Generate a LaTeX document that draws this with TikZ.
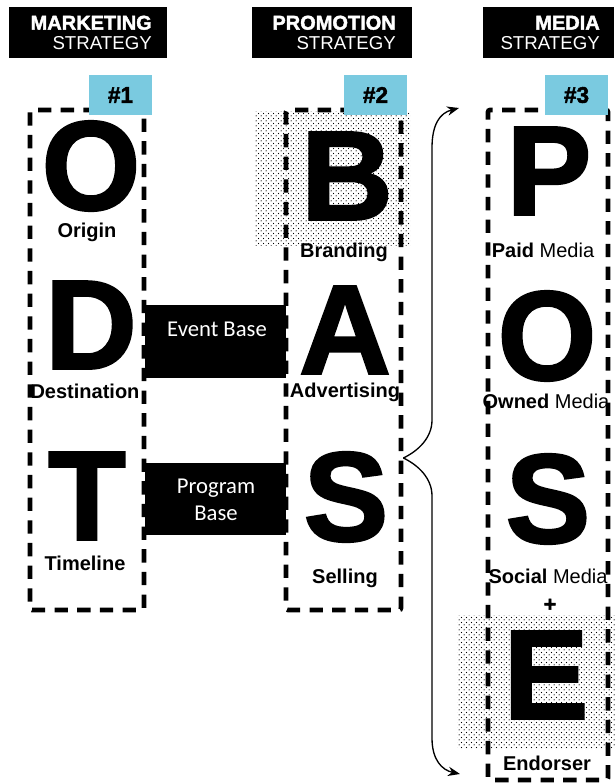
\documentclass[tikz,border=0pt]{standalone}
\usepackage{fontspec}
\setmainfont{Liberation Sans}
\newfontfamily\heavyfont{Liberation Sans Bold}[FakeBold=2]
\newfontfamily\calfont{Carlito}
\usetikzlibrary{patterns,arrows.meta}
\definecolor{badgeblue}{RGB}{122,202,224}
\pgfdeclarepatternformonly{stipdots}{\pgfpointorigin}{\pgfpoint{4pt}{3.6pt}}{\pgfpoint{4pt}{3.6pt}}{%
  \pgfpathcircle{\pgfpoint{1pt}{0.9pt}}{0.5pt}%
  \pgfpathcircle{\pgfpoint{3pt}{2.7pt}}{0.5pt}%
  \pgfusepath{fill}}

\begin{document}
\begin{tikzpicture}[x=0.75pt, y=-0.75pt,
  headbox/.style={fill=black, text=white, inner ysep=0pt, minimum height=38.25pt, align=right, anchor=north east, font=\fontsize{14}{15}\selectfont},
  badge/.style={fill=badgeblue, minimum width=47.25pt, minimum height=30pt, inner sep=0pt, font=\heavyfont\fontsize{17}{17}\selectfont},
  colbox/.style={draw, line width=3.5pt, dash pattern=on 10pt off 7pt, rounded corners=1.5pt, inner sep=0pt},
  stipple/.style={pattern=stipdots, pattern color=black, inner sep=0pt},
  linkbox/.style={fill=black, inner sep=0pt, minimum width=105.75pt},
  linktext/.style={text=white, inner sep=0pt, align=center, font=\calfont\fontsize{17}{20}\selectfont},
  bigletter/.style={inner sep=0pt, font=\heavyfont\fontsize{95}{95}\selectfont},
  lbl/.style={anchor=base, inner sep=0pt, font=\fontsize{15}{15}\selectfont},
  brace/.style={line width=1pt, -{Stealth[length=9pt, width=7pt]}},
  ]
 \useasboundingbox (0,0) rectangle (614,784);

 % dotted backgrounds
 \node[stipple, minimum width=116.25pt, minimum height=99.75pt] (bdots) at (332.5,178.5) {};
 \node[stipple, minimum width=122.25pt, minimum height=99.75pt] (edots) at (538.5,681.5) {};

 % headers
 \node[headbox, inner xsep=11.25pt, text width=96pt] (mkthead) at (167,7) {{\heavyfont\fontsize{15}{15}\selectfont MARKETING}\\STRATEGY};
 \node[headbox, inner xsep=12pt, text width=96pt] (prohead) at (412,7) {{\heavyfont\fontsize{15}{15}\selectfont PROMOTION}\\STRATEGY};
 \node[headbox, inner xsep=10.5pt, text width=77.25pt] (medhead) at (614,7) {{\heavyfont\fontsize{15}{15}\selectfont MEDIA}\\STRATEGY};

 % columns
 \node[colbox, minimum width=85.5pt, minimum height=375pt] (col1) at (87,360) {};
 \node[colbox, minimum width=86.25pt, minimum height=375pt] (col2) at (343.5,360) {};
 \node[colbox, minimum width=90pt, minimum height=502.5pt] (col3) at (548,445) {};

 % links between columns
 \node[linkbox, minimum height=54.75pt] (evbox) at (215.5,341.5) {};
 \node[linkbox, minimum height=54pt] (prbox) at (215.5,499) {};
 \node[linktext, anchor=base] (evtext) at (217,336) {Event Base};
 \node[linktext] (prtext) at (216,500) {Program\\Base};

 \node[badge] (n1) at (120.5,95) {\#1};
 \node[badge] (n2) at (375.5,95) {\#2};
 \node[badge] (n3) at (576.5,95) {\#3};

 % marketing
 \node[bigletter] (o1) at (91,166) {O};
 \node[lbl] (origin) at (87,237) {\textbf{Origin}};
 \node[bigletter] (d1) at (91,325) {D};
 \node[lbl] (dest) at (85,398) {\textbf{Destination}};
 \node[bigletter] (t1) at (87,496) {T};
 \node[lbl] (time) at (85,570) {\textbf{Timeline}};

 % promotion
 \node[bigletter] (b2) at (347,176) {B};
 \node[lbl] (brand) at (344,257) {\textbf{Branding}};
 \node[bigletter] (a2) at (345,330) {A};
 \node[lbl] (adv) at (345,397) {\textbf{Advertising}};
 \node[bigletter] (s2) at (346,497) {S};
 \node[lbl] (sell) at (345,583) {\textbf{Selling}};

 % media
 \node[bigletter] (p3) at (549,171) {P};
 \node[lbl] (paid) at (543,257) {\textbf{Paid} Media};
 \node[bigletter] (o3) at (547,336) {O};
 \node[lbl] (owned) at (546,408) {\textbf{Owned} Media};
 \node[bigletter] (s3) at (548,499) {S};
 \node[lbl] (social) at (548,583) {\textbf{Social} Media};
 \node[inner sep=0pt, font=\heavyfont\fontsize{16}{16}\selectfont] (plus) at (550,605) {+};
 \node[bigletter] (e3) at (546,675) {E};
 \node[lbl] (endo) at (547,770) {\textbf{Endorser}};

 % brace from selling to media
 \coordinate (brtip) at (col2.east |- 0,458);
 \coordinate (pin) at (459,108);
 \coordinate (ein) at (460,774);
 \draw[brace] (brtip) .. controls (418,451) and (432,438) .. (432,420) -- (432,148) .. controls (432,124) and (440,113) .. (pin);
 \draw[brace] (brtip) .. controls (418,465) and (432,478) .. (432,496) -- (432,738) .. controls (432,760) and (442,770) .. (ein);
\end{tikzpicture}
\end{document}
